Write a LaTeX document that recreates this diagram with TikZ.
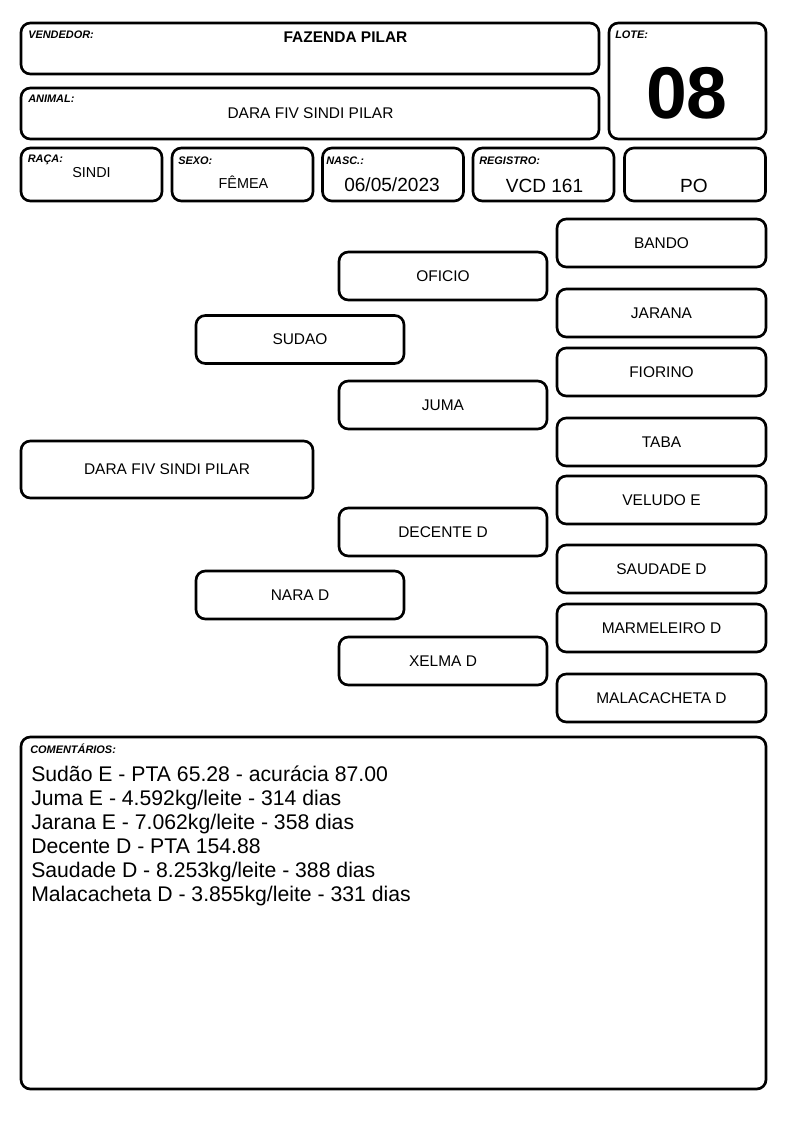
\documentclass[tikz,border=0pt]{standalone}
\usepackage{fontspec}
\setmainfont{Liberation Sans}
\usetikzlibrary{positioning}

\begin{document}
\begin{tikzpicture}[x=0.75pt, y=-0.75pt,
        field box/.style={rectangle, draw=black, line width=2pt, rounded corners=7pt, inner sep=0pt},
        field label/.style={anchor=base west, inner sep=0pt, font=\fontsize{8.2}{9}\selectfont\bfseries\itshape},
        field value/.style={anchor=base, inner sep=0pt, font=\fontsize{10.8}{12}\selectfont},
        big value/.style={anchor=base, inner sep=0pt, font=\fontsize{14.3}{16}\selectfont},
        small box/.style={field box, minimum width=105.75pt, minimum height=39.75pt},
        tree node/.style={field box, minimum width=156pt, minimum height=36pt, font=\fontsize{11.6}{13}\selectfont},
        comment line/.style={anchor=base west, inner sep=0pt, font=\fontsize{15.9}{18}\selectfont}]

            \useasboundingbox (0, 0) rectangle (794, 1123);

            % Header boxes
            \node[field box, minimum width=433.5pt, minimum height=38.25pt] (vendedor) at (310, 48.5) {};
            \node[field box, minimum width=433.5pt, minimum height=38.25pt] (animal) at (310, 113.5) {};
            \node[field box, minimum width=117.75pt, minimum height=87pt] (lote) at (687.5, 81) {};
            \node[small box] (raca) at (91.5, 174.5) {};
            \node[small box] (sexo) at (242.5, 174.5) {};
            \node[small box] (nasc) at (393, 174.5) {};
            \node[small box] (registro) at (543.5, 174.5) {};
            \node[small box] (po) at (695, 174.5) {};

            \node[field label] (vendedor label) at (28, 39) {VENDEDOR:};
            \node[field label] (animal label) at (28, 103) {ANIMAL:};
            \node[field label] (lote label) at (615, 39) {LOTE:};
            \node[field label] (raca label) at (27.5, 163) {RAÇA:};
            \node[field label] (sexo label) at (178, 164.5) {SEXO:};
            \node[field label] (nasc label) at (326, 164.5) {NASC.:};
            \node[field label] (registro label) at (479, 164.5) {REGISTRO:};

            \node[anchor=base, inner sep=0pt, font=\fontsize{11.6}{13}\selectfont\bfseries] (vendedor value) at (345.5, 43) {FAZENDA PILAR};
            \node[anchor=base, inner sep=0pt, font=\fontsize{11.6}{13}\selectfont] (animal value) at (310.5, 119) {DARA FIV SINDI PILAR};
            \node[anchor=base, inner sep=0pt, font=\fontsize{55}{60}\selectfont\bfseries] (lote value) at (687, 119) {08};
            \node[field value] (raca value) at (91.5, 178) {SINDI};
            \node[field value] (sexo value) at (243.5, 189) {FÊMEA};
            \node[big value] (nasc value) at (392, 192) {06/05/2023};
            \node[big value] (registro value) at (544.5, 192.5) {VCD 161};
            \node[big value] (po value) at (694, 192.5) {PO};

            % Pedigree
            \node[tree node, minimum width=219pt, minimum height=42.75pt] (dara) at (167, 469.5) {DARA FIV SINDI PILAR};

            \node[tree node] (sudao) at (300, 339.5) {SUDAO};
            \node[tree node] (nara) at (300, 595) {NARA D};

            \node[tree node] (oficio) at (443, 276) {OFICIO};
            \node[tree node] (juma) at (443, 405) {JUMA};
            \node[tree node] (decente) at (443, 532) {DECENTE D};
            \node[tree node] (xelma) at (443, 661) {XELMA D};

            \node[tree node, minimum width=156.75pt] (bando) at (661.5, 243) {BANDO};
            \node[tree node, minimum width=156.75pt] (jarana) at (661.5, 313) {JARANA};
            \node[tree node, minimum width=156.75pt] (fiorino) at (661.5, 372) {FIORINO};
            \node[tree node, minimum width=156.75pt] (taba) at (661.5, 442) {TABA};
            \node[tree node, minimum width=156.75pt] (veludo) at (661.5, 500) {VELUDO E};
            \node[tree node, minimum width=156.75pt] (saudade) at (661.5, 569) {SAUDADE D};
            \node[tree node, minimum width=156.75pt] (marmeleiro) at (661.5, 628) {MARMELEIRO D};
            \node[tree node, minimum width=156.75pt] (malacacheta) at (661.5, 698) {MALACACHETA D};

            % Comments
            \node[field box, minimum width=558.75pt, minimum height=264pt] (comentarios) at (393.5, 913) {};
            \node[field label] (comentarios label) at (30, 753) {COMENTÁRIOS:};

            \node[comment line] (c1) at (31, 781.5) {Sudão E - PTA 65.28 - acurácia 87.00};
            \node[comment line] (c2) at (31, 805.5) {Juma E - 4.592kg/leite - 314 dias};
            \node[comment line] (c3) at (31, 829.5) {Jarana E - 7.062kg/leite - 358 dias};
            \node[comment line] (c4) at (31, 853.5) {Decente D - PTA 154.88};
            \node[comment line] (c5) at (31, 877.5) {Saudade D - 8.253kg/leite - 388 dias};
            \node[comment line] (c6) at (31, 901.5) {Malacacheta D - 3.855kg/leite - 331 dias};

    \end{tikzpicture}
\end{document}
